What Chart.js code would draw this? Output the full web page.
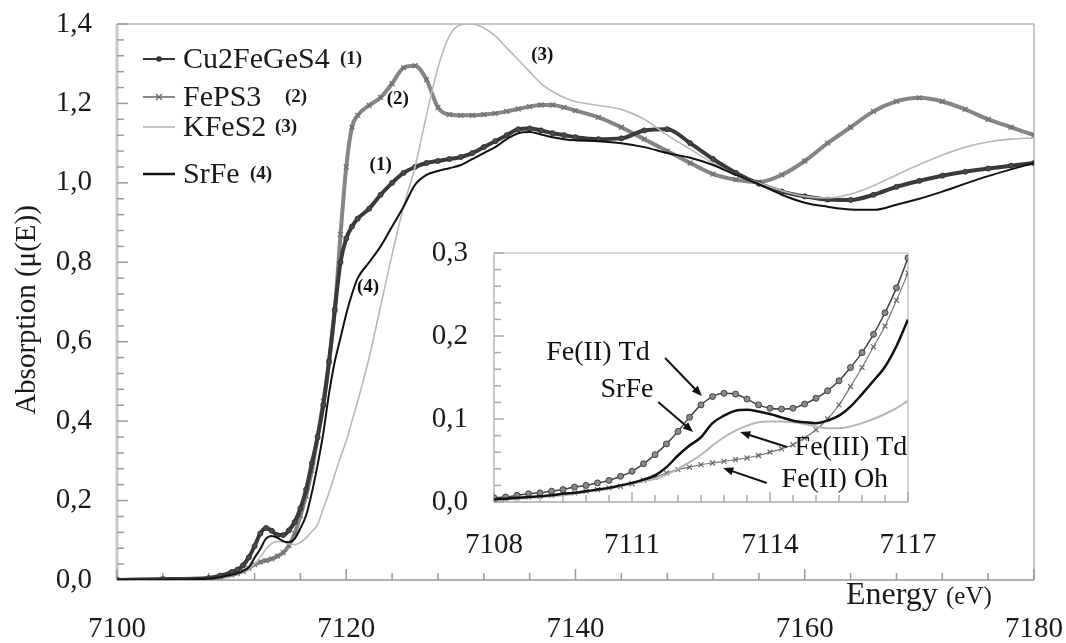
<!DOCTYPE html>
<html lang="en">
<head>
<meta charset="utf-8">
<title>Fe K-edge XANES</title>
<script src="https://cdn.jsdelivr.net/npm/chart.js@4.4.1/dist/chart.umd.min.js"></script>
<style>
    html, body { margin: 0; padding: 0; background: #fff; }
    #wrap { position: relative; width: 1066px; height: 643px; overflow: hidden; }
    canvas { position: absolute; }
    #main-chart { left: 0; top: 0; }
    #inset-chart { left: 410px; top: 235px; }
</style>
</head>
<body>
<div id="wrap">
    <canvas id="main-chart" width="1066" height="643"></canvas>
    <canvas id="inset-chart" width="560" height="335"></canvas>
</div>
<script>
// main spectra (energy in eV, normalised absorption)
const energy = [7100, 7104, 7108, 7109, 7110, 7110.5, 7111, 7111.5, 7112, 7112.5, 7113, 7113.5, 7114, 7114.5, 7115, 7115.5, 7116, 7116.5, 7117, 7117.5, 7118, 7118.5, 7119, 7119.5, 7120, 7120.5, 7121, 7122, 7123, 7124, 7125, 7126, 7127, 7128, 7129, 7130, 7131, 7132, 7133, 7134, 7135, 7136, 7137, 7138, 7139, 7140, 7142, 7144, 7146, 7148, 7150, 7152, 7154, 7156, 7158, 7160, 7162, 7164, 7166, 7168, 7170, 7172, 7174, 7176, 7178, 7180];
const cu2FeGeS4 = [0.000, 0.002, 0.005, 0.011, 0.020, 0.026, 0.037, 0.057, 0.085, 0.117, 0.131, 0.124, 0.113, 0.113, 0.125, 0.146, 0.180, 0.228, 0.294, 0.36, 0.44, 0.55, 0.68, 0.80, 0.86, 0.89, 0.91, 0.935, 0.97, 1.00, 1.025, 1.04, 1.05, 1.055, 1.06, 1.065, 1.075, 1.09, 1.105, 1.12, 1.135, 1.137, 1.132, 1.125, 1.12, 1.115, 1.11, 1.112, 1.132, 1.135, 1.10, 1.06, 1.025, 0.998, 0.978, 0.966, 0.958, 0.957, 0.97, 0.99, 1.005, 1.018, 1.028, 1.036, 1.043, 1.05];
const fePS3 = [0.000, 0.002, 0.003, 0.007, 0.013, 0.017, 0.022, 0.030, 0.039, 0.045, 0.049, 0.053, 0.060, 0.069, 0.087, 0.117, 0.162, 0.212, 0.276, 0.36, 0.45, 0.55, 0.68, 0.87, 1.04, 1.14, 1.17, 1.195, 1.215, 1.25, 1.29, 1.295, 1.26, 1.19, 1.172, 1.17, 1.17, 1.172, 1.175, 1.18, 1.186, 1.192, 1.196, 1.196, 1.19, 1.182, 1.165, 1.14, 1.11, 1.08, 1.05, 1.022, 1.008, 1.002, 1.02, 1.055, 1.10, 1.14, 1.18, 1.205, 1.214, 1.205, 1.185, 1.16, 1.14, 1.12];
const kFeS2 = [0.000, 0.001, 0.002, 0.006, 0.012, 0.016, 0.022, 0.028, 0.040, 0.057, 0.078, 0.092, 0.097, 0.096, 0.091, 0.089, 0.095, 0.106, 0.122, 0.14, 0.18, 0.22, 0.265, 0.31, 0.35, 0.40, 0.45, 0.56, 0.69, 0.82, 0.94, 1.04, 1.17, 1.29, 1.37, 1.398, 1.40, 1.39, 1.37, 1.34, 1.31, 1.28, 1.25, 1.23, 1.215, 1.205, 1.195, 1.185, 1.16, 1.12, 1.085, 1.05, 1.02, 1.00, 0.98, 0.966, 0.962, 0.972, 0.993, 1.02, 1.046, 1.07, 1.09, 1.103, 1.11, 1.113];
const srFe = [0.000, 0.001, 0.003, 0.007, 0.013, 0.017, 0.023, 0.032, 0.056, 0.078, 0.104, 0.111, 0.106, 0.098, 0.095, 0.104, 0.130, 0.163, 0.220, 0.29, 0.37, 0.47, 0.55, 0.61, 0.67, 0.72, 0.76, 0.80, 0.84, 0.89, 0.94, 0.995, 1.02, 1.03, 1.037, 1.045, 1.06, 1.075, 1.09, 1.11, 1.125, 1.128, 1.122, 1.115, 1.11, 1.107, 1.105, 1.10, 1.09, 1.075, 1.063, 1.045, 1.02, 0.997, 0.97, 0.95, 0.94, 0.933, 0.932, 0.945, 0.96, 0.978, 0.998, 1.017, 1.034, 1.05];

const seriesNames = ['Cu2FeGeS4', 'FePS3', 'KFeS2', 'SrFe'];
const seriesTags = ['(1)', '(2)', '(3)', '(4)'];
const mainXTicks = [7100, 7120, 7140, 7160, 7180];
const mainYTicks = [0, 0.2, 0.4, 0.6, 0.8, 1.0, 1.2, 1.4];

// pre-edge zoom (inset)
const insetEnergy = [7108, 7108.25, 7108.5, 7108.75, 7109, 7109.25, 7109.5, 7109.75, 7110, 7110.25, 7110.5, 7110.75, 7111, 7111.25, 7111.5, 7111.75, 7112, 7112.25, 7112.5, 7112.75, 7113, 7113.25, 7113.5, 7113.75, 7114, 7114.25, 7114.5, 7114.75, 7115, 7115.25, 7115.5, 7115.75, 7116, 7116.25, 7116.5, 7116.75, 7117];
const insetCu2FeGeS4 = [0.005, 0.006, 0.008, 0.010, 0.011, 0.013, 0.015, 0.018, 0.020, 0.023, 0.026, 0.031, 0.037, 0.046, 0.057, 0.070, 0.085, 0.102, 0.117, 0.127, 0.131, 0.130, 0.124, 0.117, 0.113, 0.112, 0.113, 0.118, 0.125, 0.134, 0.146, 0.162, 0.180, 0.202, 0.228, 0.258, 0.294];
const insetFePS3 = [0.003, 0.004, 0.005, 0.006, 0.007, 0.008, 0.010, 0.011, 0.013, 0.015, 0.017, 0.019, 0.022, 0.026, 0.030, 0.035, 0.039, 0.042, 0.045, 0.047, 0.049, 0.051, 0.053, 0.056, 0.060, 0.064, 0.069, 0.077, 0.087, 0.100, 0.117, 0.139, 0.162, 0.187, 0.212, 0.243, 0.276];
const insetKFeS2 = [0.002, 0.003, 0.004, 0.005, 0.006, 0.007, 0.008, 0.010, 0.012, 0.014, 0.016, 0.019, 0.022, 0.025, 0.028, 0.033, 0.040, 0.048, 0.057, 0.068, 0.078, 0.086, 0.092, 0.096, 0.097, 0.097, 0.096, 0.094, 0.091, 0.089, 0.089, 0.091, 0.095, 0.100, 0.106, 0.113, 0.122];
const insetSrFe = [0.003, 0.004, 0.005, 0.006, 0.007, 0.008, 0.010, 0.011, 0.013, 0.015, 0.017, 0.020, 0.023, 0.027, 0.032, 0.042, 0.056, 0.068, 0.078, 0.095, 0.104, 0.110, 0.111, 0.109, 0.106, 0.102, 0.098, 0.096, 0.095, 0.098, 0.104, 0.115, 0.130, 0.146, 0.163, 0.188, 0.220];
const insetXTicks = [7108, 7111, 7114, 7117];
const insetYTicks = [0, 0.1, 0.2, 0.3];

const SERIF = "'Liberation Serif', 'Times New Roman', serif";
const comma = v => Number(v).toFixed(1).replace('.', ',');
const toPoints = (xs, ys) => xs.map((x, i) => ({ x: x, y: ys[i] }));

function line(ctx, x1, y1, x2, y2, color, width) {
    ctx.strokeStyle = color;
    ctx.lineWidth = width;
    ctx.beginPath();
    ctx.moveTo(x1, y1);
    ctx.lineTo(x2, y2);
    ctx.stroke();
}

function arrow(ctx, x1, y1, x2, y2) {
    const ang = Math.atan2(y2 - y1, x2 - x1);
    const head = 11;
    line(ctx, x1, y1, x2 - Math.cos(ang) * head * 0.8, y2 - Math.sin(ang) * head * 0.8, '#111', 2);
    ctx.fillStyle = '#111';
    ctx.beginPath();
    ctx.moveTo(x2, y2);
    ctx.lineTo(x2 - head * Math.cos(ang - 0.38), y2 - head * Math.sin(ang - 0.38));
    ctx.lineTo(x2 - head * Math.cos(ang + 0.38), y2 - head * Math.sin(ang + 0.38));
    ctx.closePath();
    ctx.fill();
}

// keep the plot box where it is, labels may hang over the edges
function fixSize(prop, size) {
    return s => {
        s[prop] = size;
        s.paddingLeft = 0;
        s.paddingRight = 0;
        s.paddingTop = 0;
        s.paddingBottom = 0;
    };
}

// box, axis lines and inward ticks
const framePlugin = {
    id: 'frame',
    beforeDatasetsDraw(chart, args, o) {
        const { ctx, chartArea: a, scales } = chart;
        const x = scales.x, y = scales.y;
        ctx.save();
        ctx.fillStyle = '#fff';
        ctx.fillRect(a.left, a.top, a.right - a.left, a.bottom - a.top);
        line(ctx, a.left, a.top, a.right, a.top, o.frameColor, o.frameWidth);
        line(ctx, a.right, a.top, a.right, a.bottom, o.frameColor, o.frameWidth);
        line(ctx, a.left, a.top, a.left, a.bottom, o.leftColor, o.leftWidth);
        line(ctx, a.left, a.bottom, a.right, a.bottom, o.bottomColor, o.bottomWidth);
        const ny = Math.round((y.max - y.min) / o.yMinor);
        for (let i = 0; i <= ny; i++) {
            const py = y.getPixelForValue(y.min + i * o.yMinor);
            const len = i % o.yMajorEvery === 0 ? o.majorLen : o.minorLen;
            line(ctx, a.left, py, a.left + len, py, o.tickColor, 1.5);
        }
        const nx = Math.round((x.max - x.min) / o.xMinor);
        for (let i = 0; i <= nx; i++) {
            const px = x.getPixelForValue(x.min + i * o.xMinor);
            const len = i % o.xMajorEvery === 0 ? o.majorLen : o.minorLen;
            line(ctx, px, a.bottom, px, a.bottom - len, o.tickColor, 1.5);
        }
        ctx.restore();
    }
};

// text labels and arrows placed in data coordinates
const notesPlugin = {
    id: 'notes',
    afterDatasetsDraw(chart, args, o) {
        const { ctx, scales } = chart;
        const x = scales.x, y = scales.y;
        ctx.save();
        (o.arrows || []).forEach(ar => {
            arrow(ctx, x.getPixelForValue(ar.from[0]), y.getPixelForValue(ar.from[1]),
                x.getPixelForValue(ar.to[0]), y.getPixelForValue(ar.to[1]));
        });
        (o.labels || []).forEach(n => {
            ctx.font = n.font;
            ctx.fillStyle = '#111';
            ctx.textAlign = 'center';
            ctx.textBaseline = 'middle';
            ctx.fillText(n.text, x.getPixelForValue(n.x), y.getPixelForValue(n.y));
        });
        ctx.restore();
    }
};

// legend block and axis titles of the main chart
const mainDecor = {
    id: 'mainDecor',
    afterDraw(chart) {
        const { ctx, chartArea: a } = chart;
        ctx.save();
        ctx.fillStyle = '#1a1a1a';

        ctx.save();
        ctx.translate(27, 310);
        ctx.rotate(-Math.PI / 2);
        ctx.font = `29px ${SERIF}`;
        ctx.textAlign = 'center';
        ctx.textBaseline = 'middle';
        ctx.fillText('Absorption (\u03bc(E))', 0, 0);
        ctx.restore();

        ctx.textAlign = 'left';
        ctx.textBaseline = 'alphabetic';
        ctx.font = `32px ${SERIF}`;
        ctx.fillText('Energy', 846, 604);
        ctx.font = `25px ${SERIF}`;
        ctx.fillText('(eV)', 946, 604);

        const rows = [
            { dy: 35, tagX: 223, color: '#333', w: 2, mark: 'dot' },
            { dy: 73, tagX: 168, color: '#888', w: 2, mark: 'cross' },
            { dy: 103, tagX: 158, color: '#c4c4c4', w: 2, mark: null },
            { dy: 150, tagX: 133, color: '#111', w: 2.5, mark: null }
        ];
        rows.forEach((r, i) => {
            const yy = a.top + r.dy;
            const x1 = a.left + 26, x2 = a.left + 58, xm = (x1 + x2) / 2;
            line(ctx, x1, yy, x2, yy, r.color, r.w);
            if (r.mark === 'dot') {
                ctx.fillStyle = '#333';
                ctx.beginPath();
                ctx.arc(xm, yy, 2.8, 0, Math.PI * 2);
                ctx.fill();
            } else if (r.mark === 'cross') {
                line(ctx, xm - 3, yy - 3, xm + 3, yy + 3, '#666', 1.3);
                line(ctx, xm - 3, yy + 3, xm + 3, yy - 3, '#666', 1.3);
            }
            ctx.fillStyle = '#1a1a1a';
            ctx.textBaseline = 'middle';
            ctx.font = `30px ${SERIF}`;
            ctx.fillText(seriesNames[i], a.left + 66, yy + 1);
            ctx.font = `bold 19px ${SERIF}`;
            ctx.fillText(seriesTags[i], a.left + r.tagX, yy);
        });
        ctx.restore();
    }
};

const tickFont = { family: SERIF, size: 29 };

new Chart(document.getElementById('main-chart'), {
    type: 'line',
    data: {
        datasets: [
            {
                label: seriesNames[0], data: toPoints(energy, cu2FeGeS4), order: 2,
                borderColor: '#3a3a3a', borderWidth: 4,
                pointStyle: 'circle', pointRadius: 2.5, pointBackgroundColor: '#4a4a4a', pointBorderColor: '#333', pointBorderWidth: 1
            },
            {
                label: seriesNames[1], data: toPoints(energy, fePS3), order: 3,
                borderColor: '#858585', borderWidth: 4,
                pointStyle: 'crossRot', pointRadius: 3.5, pointBorderColor: '#6e6e6e', pointBorderWidth: 1.2
            },
            {
                label: seriesNames[2], data: toPoints(energy, kFeS2), order: 1,
                borderColor: '#b8b8b8', borderWidth: 1.6, pointRadius: 0
            },
            {
                label: seriesNames[3], data: toPoints(energy, srFe), order: 0,
                borderColor: '#111', borderWidth: 2, pointRadius: 0
            }
        ]
    },
    options: {
        responsive: false,
        animation: false,
        events: [],
        cubicInterpolationMode: 'monotone',
        layout: { padding: { top: 24, right: 32, left: 0, bottom: 0 } },
        scales: {
            x: {
                type: 'linear', min: 7100, max: 7180,
                afterFit: fixSize('height', 63),
                afterBuildTicks: s => { s.ticks = mainXTicks.map(v => ({ value: v })); },
                grid: { display: false, drawTicks: false },
                border: { display: false },
                ticks: { padding: 32, color: '#1a1a1a', font: tickFont, maxRotation: 0, autoSkip: false, callback: v => String(v) }
            },
            y: {
                type: 'linear', min: 0, max: 1.4,
                afterFit: fixSize('width', 117),
                afterBuildTicks: s => { s.ticks = mainYTicks.map(v => ({ value: v })); },
                grid: { display: false, drawTicks: false },
                border: { display: false },
                ticks: { padding: 25, color: '#1a1a1a', font: tickFont, callback: comma }
            }
        },
        plugins: {
            legend: { display: false },
            tooltip: { enabled: false },
            frame: {
                frameColor: '#c8c8c8', frameWidth: 2, leftColor: '#c8c8c8', leftWidth: 3,
                bottomColor: '#999', bottomWidth: 1.5, tickColor: '#999',
                yMinor: 0.04, yMajorEvery: 5, xMinor: 4, xMajorEvery: 5, majorLen: 11, minorLen: 7
            },
            notes: {
                labels: [
                    { text: '(3)', x: 7137.1, y: 1.322, font: `bold 19px ${SERIF}` },
                    { text: '(2)', x: 7124.5, y: 1.211, font: `bold 19px ${SERIF}` },
                    { text: '(1)', x: 7123.0, y: 1.045, font: `bold 19px ${SERIF}` },
                    { text: '(4)', x: 7121.9, y: 0.738, font: `bold 19px ${SERIF}` }
                ]
            }
        }
    },
    plugins: [framePlugin, notesPlugin, mainDecor]
});

const noteFont = `28px ${SERIF}`;

new Chart(document.getElementById('inset-chart'), {
    type: 'line',
    data: {
        datasets: [
            {
                label: seriesNames[0], data: toPoints(insetEnergy, insetCu2FeGeS4), order: 2,
                borderColor: '#444', borderWidth: 1.5,
                pointStyle: 'circle', pointRadius: 3, pointBackgroundColor: '#8a8a8a', pointBorderColor: '#444', pointBorderWidth: 1
            },
            {
                label: seriesNames[1], data: toPoints(insetEnergy, insetFePS3), order: 3,
                borderColor: '#777', borderWidth: 1.2,
                pointStyle: 'crossRot', pointRadius: 3.5, pointBorderColor: '#666', pointBorderWidth: 1.2
            },
            {
                label: seriesNames[2], data: toPoints(insetEnergy, insetKFeS2), order: 1,
                borderColor: '#b5b5b5', borderWidth: 2, pointRadius: 0
            },
            {
                label: seriesNames[3], data: toPoints(insetEnergy, insetSrFe), order: 0,
                borderColor: '#111', borderWidth: 2.5, pointRadius: 0
            }
        ]
    },
    options: {
        responsive: false,
        animation: false,
        events: [],
        cubicInterpolationMode: 'monotone',
        layout: { padding: { top: 18, right: 62, left: 0, bottom: 0 } },
        scales: {
            x: {
                type: 'linear', min: 7108, max: 7117,
                afterFit: fixSize('height', 68),
                afterBuildTicks: s => { s.ticks = insetXTicks.map(v => ({ value: v })); },
                grid: { display: false, drawTicks: false },
                border: { display: false },
                ticks: { padding: 26, color: '#1a1a1a', font: tickFont, maxRotation: 0, autoSkip: false, callback: v => String(v) }
            },
            y: {
                type: 'linear', min: 0, max: 0.3,
                afterFit: fixSize('width', 84),
                afterBuildTicks: s => { s.ticks = insetYTicks.map(v => ({ value: v })); },
                grid: { display: false, drawTicks: false },
                border: { display: false },
                ticks: { padding: 26, color: '#1a1a1a', font: tickFont, callback: comma }
            }
        },
        plugins: {
            legend: { display: false },
            tooltip: { enabled: false },
            frame: {
                frameColor: '#c8c8c8', frameWidth: 1.5, leftColor: '#c8c8c8', leftWidth: 2,
                bottomColor: '#aaa', bottomWidth: 1.5, tickColor: '#aaa',
                yMinor: 0.02, yMajorEvery: 5, xMinor: 0.5, xMajorEvery: 6, majorLen: 10, minorLen: 7
            },
            notes: {
                arrows: [
                    { from: [7111.72, 0.1735], to: [7112.52, 0.1277] },
                    { from: [7111.57, 0.1205], to: [7112.33, 0.0843] },
                    { from: [7114.37, 0.0663], to: [7113.35, 0.0843] },
                    { from: [7113.93, 0.0229], to: [7112.98, 0.0410] }
                ],
                labels: [
                    { text: 'Fe(II) Td', x: 7110.26, y: 0.1795, font: noteFont },
                    { text: 'SrFe', x: 7110.89, y: 0.135, font: noteFont },
                    { text: 'Fe(III) Td', x: 7115.76, y: 0.065, font: noteFont },
                    { text: 'Fe(II) Oh', x: 7115.41, y: 0.0265, font: noteFont }
                ]
            }
        }
    },
    plugins: [framePlugin, notesPlugin]
});
</script>
</body>
</html>
